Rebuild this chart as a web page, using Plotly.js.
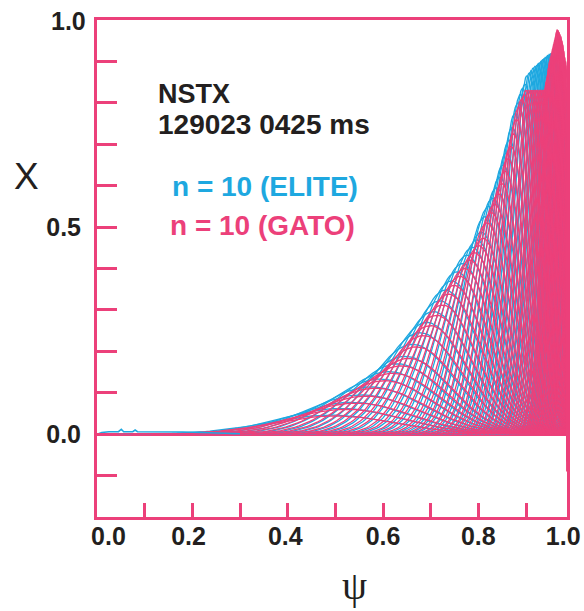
<!DOCTYPE html>
<html><head><meta charset="utf-8">
<script src="https://cdn.plot.ly/plotly-3.0.1.min.js"></script>
<style>html,body{margin:0;padding:0;background:#fff}#chart{width:584px;height:611px}</style>
</head><body><div id="chart"></div>
<script>
// Peak location (psi) of each poloidal harmonic of the n = 10 mode (GATO)
const harmonicPeak = [0.500,0.523,0.544,0.565,0.584,0.603,0.621,0.638,0.654,0.670,
  0.685,0.699,0.712,0.725,0.738,0.749,0.761,0.771,0.782,0.792,
  0.801,0.810,0.818,0.827,0.834,0.842,0.849,0.856,0.862,0.868,
  0.874,0.880,0.885,0.891,0.896,0.900,0.905,0.909,0.913,0.917,
  0.921,0.924,0.928,0.931,0.934,0.937,0.940,0.943,0.945,0.948,
  0.950,0.952,0.954,0.956,0.958,0.960,0.962,0.964,0.965,0.967,
  0.969,0.971,0.973,0.975,0.977,0.979,0.981,0.983];
// Peak location of each harmonic (ELITE)
const elitePeak = [0.490,0.512,0.534,0.555,0.575,0.594,0.612,0.630,0.646,0.662,
  0.678,0.692,0.706,0.719,0.731,0.744,0.755,0.766,0.776,0.787,
  0.797,0.806,0.814,0.822,0.830,0.838,0.845,0.852,0.859,0.865,
  0.871,0.877,0.883,0.888,0.893,0.898,0.902,0.907,0.911,0.915,
  0.919,0.923,0.926,0.929,0.932,0.935,0.938,0.941,0.944,0.946,
  0.949,0.951,0.953,0.955,0.957,0.959,0.961,0.963,0.964,0.966,
  0.968,0.970,0.972,0.974,0.976,0.978,0.980,0.982];
// Peak amplitude of each harmonic, GATO
const gatoAmp = [0.044,0.060,0.075,0.092,0.111,0.129,0.147,0.165,0.183,0.211,
  0.238,0.262,0.287,0.312,0.338,0.359,0.381,0.400,0.420,0.438,
  0.455,0.473,0.510,0.535,0.555,0.580,0.605,0.635,0.665,0.695,
  0.725,0.760,0.790,0.810,0.820,0.830,0.830,0.830,0.830,0.830,
  0.830,0.830,0.830,0.830,0.830,0.830,0.830,0.850,0.865,0.885,
  0.900,0.910,0.920,0.930,0.940,0.950,0.960,0.970,0.977,0.975,
  0.970,0.965,0.960,0.950,0.940,0.925,0.910,0.900];
// Peak amplitude of each harmonic, ELITE
const eliteAmp = [0.046,0.062,0.077,0.095,0.114,0.133,0.151,0.170,0.188,0.217,
  0.245,0.270,0.296,0.322,0.348,0.370,0.392,0.412,0.432,0.451,
  0.469,0.488,0.525,0.550,0.570,0.595,0.620,0.650,0.680,0.710,
  0.740,0.775,0.800,0.820,0.835,0.845,0.865,0.872,0.878,0.884,
  0.888,0.891,0.895,0.898,0.901,0.904,0.907,0.910,0.912,0.915,
  0.917,0.918,0.918,0.916,0.914,0.912,0.910,0.905,0.900,0.895,
  0.890,0.885,0.880,0.875,0.870,0.865,0.860,0.855];
// ELITE small core response
const eliteCorePsi = [0.0,0.010,0.025,0.045,0.051,0.056,0.075,0.080,0.085,0.120,0.180,0.220,0.260,0.300];
const eliteCoreX   = [0.0,0.004,0.006,0.006,0.012,0.006,0.006,0.010,0.006,0.006,0.005,0.004,0.002,0.001];
// GATO edge harmonic dipping below zero
const gatoEdgePsi = [0.9835,0.9852,0.9856];
const gatoEdgeX   = [0.89,0.0,-0.09];
// Tick labels
const xLabelText = ["0.0","0.2","0.4","0.6","0.8","1.0"];
const xLabelPos  = [0.024,0.192,0.395,0.600,0.800,0.978];
const xTickPos   = [0.1,0.2,0.3,0.4,0.5,0.6,0.7,0.8,0.9];
const yTickPos   = [-0.1,0,0.1,0.2,0.3,0.4,0.5,0.6,0.7,0.8,0.9];
const yTickText  = ["","0.0","","","","","0.5","","","",""];

const PINK = "rgb(236,64,122)";
const BLUE = "rgb(30,168,224)";
const XMAX = 0.986;

function family(peaks, amps){
  const xs=[], ys=[];
  peaks.forEach((p,i)=>{
    const s = 0.25*(1-p)+0.004;
    const a = Math.max(0, p-4*s), b = Math.min(p+4*s, XMAX);
    const N = 100;
    for(let j=0;j<=N;j++){
      const x = a+(b-a)*j/N;
      xs.push(x); ys.push(amps[i]*Math.exp(-0.5*((x-p)/s)**2));
    }
    xs.push(null); ys.push(null);
  });
  return {xs, ys};
}
const el = family(elitePeak, eliteAmp);
const ga = family(harmonicPeak, gatoAmp);

const traces = [
  {x: el.xs, y: el.ys, mode:'lines', line:{color:BLUE, width:1.3}, hoverinfo:'skip', showlegend:false},
  {x: eliteCorePsi, y: eliteCoreX, xaxis:'x2', mode:'lines', line:{color:BLUE, width:1.5}, hoverinfo:'skip', showlegend:false},
  {x: ga.xs, y: ga.ys, mode:'lines', line:{color:PINK, width:1.3}, hoverinfo:'skip', showlegend:false},
  {x: gatoEdgePsi, y: gatoEdgeX, mode:'lines', line:{color:PINK, width:1.5}, hoverinfo:'skip', showlegend:false}
];

const tf = {family:'Liberation Sans, Arial, sans-serif', size:25, color:'#231F20', weight:700};
const layout = {
  width:584, height:611,
  margin:{l:97, r:17, t:20, b:94},
  paper_bgcolor:'#fff', plot_bgcolor:'#fff',
  showlegend:false,
  xaxis:{range:[0,XMAX], showline:true, linecolor:PINK, linewidth:3, mirror:true,
    tickmode:'array', tickvals:xTickPos, ticks:'inside', ticklen:14, tickwidth:3, tickcolor:PINK,
    showticklabels:false, showgrid:false, zeroline:false},
  xaxis2:{range:[0,XMAX], overlaying:'x', side:'bottom', showline:false, showgrid:false, zeroline:false,
    tickmode:'array', tickvals:xLabelPos, ticktext:xLabelText, ticks:'', tickfont:tf, ticklabelstandoff:2,
    ticklabeloverflow:'allow'},
  yaxis:{range:[-0.2,1.0], showline:true, linecolor:PINK, linewidth:3, mirror:true,
    tickmode:'array', tickvals:yTickPos, ticktext:yTickText, ticks:'inside', ticklen:20, tickwidth:3, tickcolor:PINK,
    tickfont:tf, showgrid:false, zeroline:true, zerolinecolor:PINK, zerolinewidth:3, ticklabelstandoff:8},
  annotations:[
    {text:'1.0', xref:'paper', yref:'paper', x:-0.02, y:0.997, xanchor:'right', yanchor:'middle', showarrow:false, font:tf},
    {text:'X', xref:'paper', yref:'paper', x:-0.149, y:0.686, xanchor:'center', yanchor:'middle', showarrow:false,
      font:{family:'Liberation Sans, Arial, sans-serif', size:37, color:'#231F20'}},
    {text:'ψ', xref:'paper', yref:'paper', x:0.547, y:-0.137, xanchor:'center', yanchor:'middle', showarrow:false,
      font:{family:'Liberation Serif, Times New Roman, serif', size:40, color:'#231F20'}},
    {text:'NSTX', xref:'paper', yref:'paper', x:0.126, y:0.851, xanchor:'left', yanchor:'middle', showarrow:false,
      font:{family:'Liberation Sans, Arial, sans-serif', size:27, color:'#231F20', weight:700}},
    {text:'129023 0425 ms', xref:'paper', yref:'paper', x:0.126, y:0.789, xanchor:'left', yanchor:'middle', showarrow:false,
      font:{family:'Liberation Sans, Arial, sans-serif', size:28, color:'#231F20', weight:700}},
    {text:'n = 10 (ELITE)', xref:'paper', yref:'paper', x:0.357, y:0.664, xanchor:'center', yanchor:'middle', showarrow:false,
      font:{family:'Liberation Sans, Arial, sans-serif', size:28, color:BLUE, weight:700}},
    {text:'n = 10 (GATO)', xref:'paper', yref:'paper', x:0.353, y:0.5875, xanchor:'center', yanchor:'middle', showarrow:false,
      font:{family:'Liberation Sans, Arial, sans-serif', size:28, color:PINK, weight:700}}
  ]
};
Plotly.newPlot('chart', traces, layout, {displayModeBar:false, staticPlot:true});
</script></body></html>
